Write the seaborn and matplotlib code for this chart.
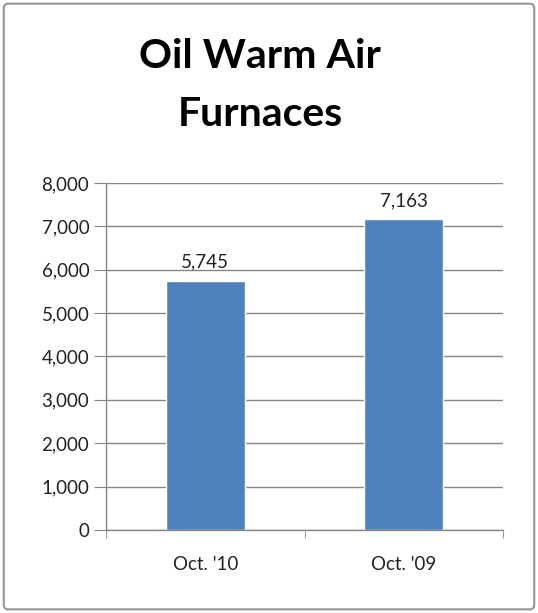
import pandas as pd
import matplotlib.pyplot as plt
import seaborn as sns
from matplotlib.patches import FancyBboxPatch
from matplotlib.ticker import FuncFormatter, FixedLocator

# data
categories = ["Oct. '10", "Oct. '09"]
values = [5745, 7163]
title_lines = ["Oil Warm Air", "Furnaces"]

df = pd.DataFrame({'period': categories, 'units': values})

sns.set_style('white')
plt.rcParams['font.family'] = ['Lato', 'DejaVu Sans']

fig = plt.figure(figsize=(5.38, 6.13), dpi=100)
ax = fig.add_axes([0.197, 0.1354, 0.738, 0.5661])

sns.barplot(x='period', y='units', data=df, color='#4F81BD', saturation=1,
            width=0.4, ax=ax)

ax.set_ylim(0, 8000)
ax.set_xlim(-0.5, 1.5)
ax.set_yticks(range(0, 8001, 1000))
ax.yaxis.set_major_formatter(FuncFormatter(lambda v, p: f'{int(v):,}'))
ax.grid(axis='y', color='#868686', linewidth=1)
ax.set_axisbelow(True)

for s in ['top', 'right']:
    ax.spines[s].set_visible(False)
for s in ['left', 'bottom']:
    ax.spines[s].set_color('#868686')
    ax.spines[s].set_linewidth(1)

ax.tick_params(axis='y', length=9, color='#868686', labelsize=13.5,
               labelcolor='#222222', pad=3, direction='out', left=True)
ax.tick_params(axis='x', which='major', length=0, labelsize=13.5,
               labelcolor='#222222', pad=19)
ax.xaxis.set_minor_locator(FixedLocator([-0.5, 0.5, 1.5]))
ax.tick_params(axis='x', which='minor', length=6, color='#868686',
               direction='out', bottom=True)
ax.set_xlabel('')
ax.set_ylabel('')

for i, v in enumerate(values):
    ax.annotate(f'{v:,}', (i, v), xytext=(0, 13), textcoords='offset pixels',
                ha='center', va='baseline', fontsize=13.5, color='#222222')

# two title lines, placed separately to get Excel's wide line gap
for y, line in zip([0.9086, 0.8140], title_lines):
    fig.text(0.484, y, line, ha='center', va='center', fontsize=29.5,
             fontweight='bold', color='black')

border = FancyBboxPatch((0.007, 0.006), 0.986, 0.988, transform=fig.transFigure,
                        boxstyle='round,pad=0,rounding_size=0.008',
                        facecolor='none', edgecolor='#969696', linewidth=1.5)
fig.patches.append(border)

fig.savefig('out.png', dpi=100)
